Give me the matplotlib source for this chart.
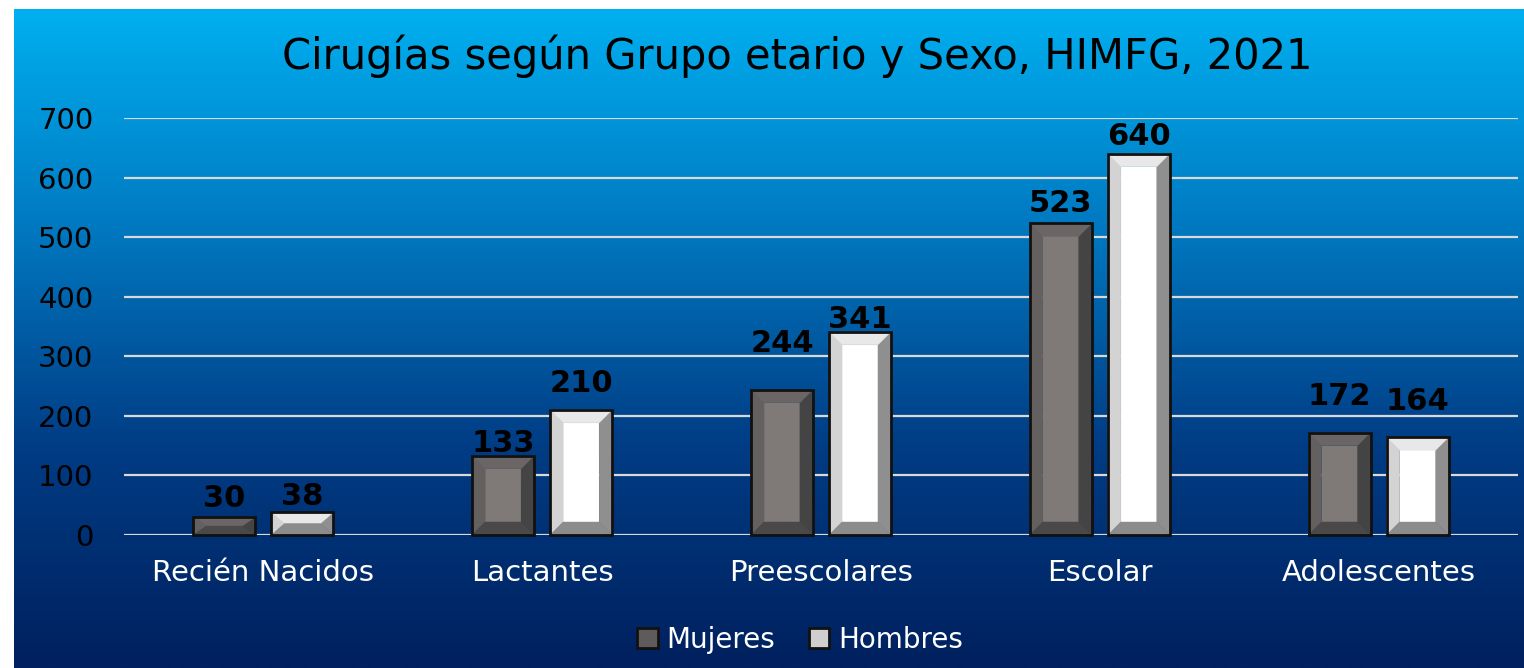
import numpy as np
import matplotlib
matplotlib.use("Agg")
import matplotlib.pyplot as plt
from matplotlib.patches import Polygon, Rectangle
from matplotlib.colors import LinearSegmentedColormap

# data
grupos = ["Recién Nacidos", "Lactantes", "Preescolares", "Escolar", "Adolescentes"]
mujeres = [30, 133, 244, 523, 172]
hombres = [38, 210, 341, 640, 164]
series_names = ["Mujeres", "Hombres"]
y_ticks = [0, 100, 200, 300, 400, 500, 600, 700]

# label lift above bar top (pixels), labels were moved by hand in the original
lift_m = [10, 4, 38, 11, 28]
lift_h = [7, 18, 4, 9, 27]

# bevel shades: face, left, right, top, bottom
shade_m = ["#7f7978", "#646060", "#454444", "#6b6665", "#4a4848"]
shade_h = ["#ffffff", "#d3d3d3", "#8f8f8f", "#e8e8e8", "#8c8c8c"]

plt.rcParams["font.family"] = ["DejaVu Sans"]

W, H = 1524, 668
fig = plt.figure(figsize=(W / 100, H / 100), dpi=100)
fig.patch.set_facecolor("white")

# gradient panel behind everything
bg = fig.add_axes([14 / W, 0, 1 - 14 / W, 1 - 9 / H], zorder=0)
cmap = LinearSegmentedColormap.from_list("bg", ["#00b0f0", "#0078c0", "#003c84", "#00205e"])
bg.imshow(np.linspace(0, 1, 256).reshape(-1, 1), aspect="auto", cmap=cmap,
          extent=[0, 1, 0, 1])
bg.axis("off")

ax = fig.add_axes([124 / W, 1 - 535 / H, (1518 - 124) / W, (535 - 118) / H], zorder=1)
ax.patch.set_alpha(0)
ax.set_xlim(-0.5, len(grupos) - 0.5)
ax.set_ylim(0, 700)
for s in ax.spines.values():
    s.set_visible(False)
ax.set_yticks(y_ticks)
ax.set_xticks(range(len(grupos)))
ax.set_xticklabels(grupos, color="white", fontsize=21)
ax.tick_params(axis="y", length=0, pad=22, labelsize=21, labelcolor="black")
ax.tick_params(axis="x", length=0, pad=17)
ax.grid(axis="y", color="#d9d9d9", linewidth=1.6)
ax.set_axisbelow(True)

bw = 0.222
off = 0.14
bx = 13 / 278.8
by_full = 13 / (417 / 700)


def bevel_bar(xc, h, shades):
    x0, x1 = xc - bw / 2, xc + bw / 2
    by = min(by_full, h / 2)
    face, left, right, top, bottom = shades
    polys = [
        ([(x0 + bx, by), (x1 - bx, by), (x1 - bx, h - by), (x0 + bx, h - by)], face),
        ([(x0, 0), (x0 + bx, by), (x0 + bx, h - by), (x0, h)], left),
        ([(x1, 0), (x1, h), (x1 - bx, h - by), (x1 - bx, by)], right),
        ([(x0, h), (x1, h), (x1 - bx, h - by), (x0 + bx, h - by)], top),
        ([(x0, 0), (x0 + bx, by), (x1 - bx, by), (x1, 0)], bottom),
    ]
    for pts, c in polys:
        ax.add_patch(Polygon(pts, closed=True, facecolor=c, edgecolor=c,
                             linewidth=0.3, zorder=3, clip_on=False))
    ax.add_patch(Rectangle((x0, 0), bw, h, facecolor="none", edgecolor="#111111",
                           linewidth=2, zorder=4, clip_on=False))


for i in range(len(grupos)):
    bevel_bar(i - off, mujeres[i], shade_m)
    bevel_bar(i + off, hombres[i], shade_h)
    ax.annotate(str(mujeres[i]), (i - off, mujeres[i]), xytext=(0, lift_m[i]),
                textcoords="offset pixels", ha="center", va="baseline",
                fontsize=22, fontweight="heavy", color="black", zorder=5)
    ax.annotate(str(hombres[i]), (i + off, hombres[i]), xytext=(0, lift_h[i]),
                textcoords="offset pixels", ha="center", va="baseline",
                fontsize=22, fontweight="heavy", color="black", zorder=5)

fig.text(797 / W, 1 - 56 / H, "Cirugías según Grupo etario y Sexo, HIMFG, 2021",
         ha="center", va="center", fontsize=30, color="black")

handles = [Rectangle((0, 0), 1, 1, facecolor="#5f5b5a", edgecolor="#111111", linewidth=2),
           Rectangle((0, 0), 1, 1, facecolor="#cfcfcf", edgecolor="#111111", linewidth=2)]
leg = fig.legend(handles, series_names, loc="center", ncol=2,
                 bbox_to_anchor=(800 / W, 1 - 640 / H), frameon=False,
                 fontsize=20, handlelength=0.75, handleheight=0.75,
                 handletextpad=0.3, columnspacing=1.2)
for t in leg.get_texts():
    t.set_color("white")

fig.savefig("out.png", dpi=100)
